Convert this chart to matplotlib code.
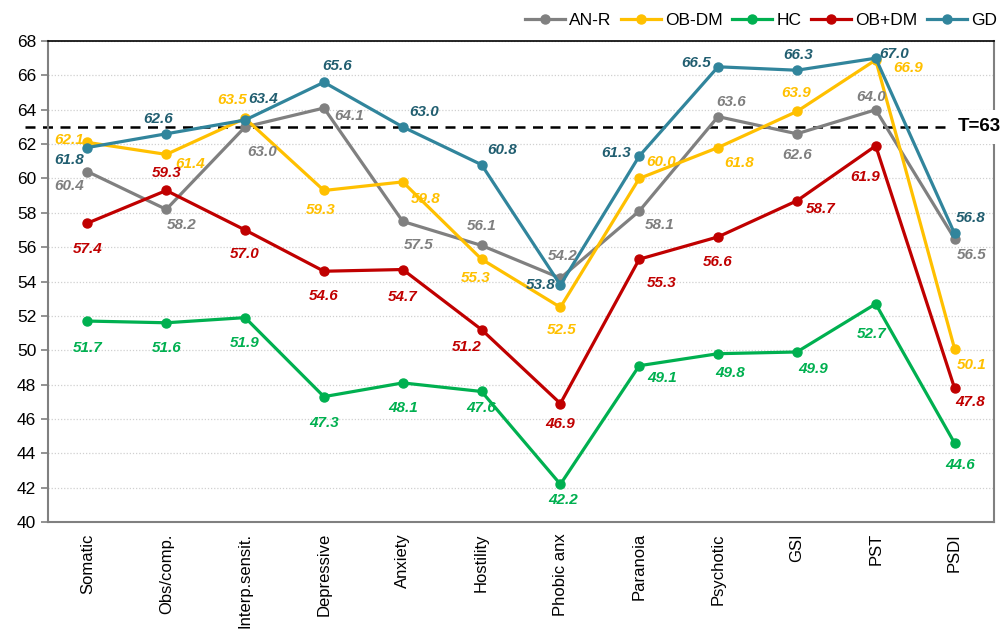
import matplotlib
matplotlib.use("Agg")
import matplotlib.pyplot as plt

categories = ["Somatic", "Obs/comp.", "Interp.sensit.", "Depressive", "Anxiety",
              "Hostility", "Phobic anx", "Paranoia", "Psychotic", "GSI", "PST", "PSDI"]

an_r = [60.4, 58.2, 63.0, 64.1, 57.5, 56.1, 54.2, 58.1, 63.6, 62.6, 64.0, 56.5]
ob_dm = [62.1, 61.4, 63.5, 59.3, 59.8, 55.3, 52.5, 60.0, 61.8, 63.9, 66.9, 50.1]
hc = [51.7, 51.6, 51.9, 47.3, 48.1, 47.6, 42.2, 49.1, 49.8, 49.9, 52.7, 44.6]
ob_plus_dm = [57.4, 59.3, 57.0, 54.6, 54.7, 51.2, 46.9, 55.3, 56.6, 58.7, 61.9, 47.8]
gd = [61.8, 62.6, 63.4, 65.6, 63.0, 60.8, 53.8, 61.3, 66.5, 66.3, 67.0, 56.8]

threshold = 63

series = [
    ("AN-R", an_r, "#808080", "#7F7F7F",
     [(-18, -14), (15, -16), (17, -25), (25, -8), (16, -24), (0, 19), (2, 22),
      (20, -14), (13, 15), (0, -21), (-5, 13), (17, -16)]),
    ("OB-DM", ob_dm, "#FFC000", "#FFC000",
     [(-18, 2), (24, -10), (-13, 18), (-3, -20), (23, -17), (-6, -19), (1, -23),
      (22, 16), (21, -15), (-1, 18), (32, -8), (17, -16)]),
    ("HC", hc, "#00B050", "#00B050",
     [(0, -27), (0, -25), (0, -25), (0, -26), (0, -25), (0, -17), (3, -16),
      (23, -12), (12, -19), (16, -17), (-4, -30), (6, -22)]),
    ("OB+DM", ob_plus_dm, "#C00000", "#C00000",
     [(0, -26), (0, 17), (0, -24), (0, -25), (0, -27), (-15, -17), (0, -20),
      (22, -24), (0, -25), (24, -8), (-11, -31), (16, -14)]),
    ("GD", gd, "#31859C", "#215E70",
     [(-18, -12), (-8, 15), (18, 21), (13, 16), (21, 15), (21, 15), (-20, 0),
      (-23, 3), (-22, 4), (1, 15), (18, 4), (16, 15)]),
]

fig = plt.figure(figsize=(10.05, 6.39), dpi=100)
ax = fig.add_axes([0.0478, 0.183, 0.9412, 0.7528])

x = list(range(len(categories)))
for name, vals, col, tcol, offs in series:
    ax.plot(x, vals, color=col, lw=2.3, marker="o", ms=6.5, label=name, zorder=3)
    for xi, v, (dx, dy) in zip(x, vals, offs):
        ax.annotate(f"{v:.1f}", (xi, v), xytext=(dx, dy), textcoords="offset pixels",
                    ha="center", va="center", fontsize=11, fontweight="bold",
                    fontstyle="italic", color=tcol, family="Liberation Sans",
                    zorder=4)

ax.set_xlim(-0.5, len(categories) - 0.5)
ax.set_ylim(40, 68)
ax.set_yticks(range(40, 69, 2))
ax.set_xticks(x)
ax.set_xticklabels(categories, rotation=90, fontsize=12, family="Liberation Sans")
for lbl in ax.get_yticklabels():
    lbl.set_family("Liberation Sans")
ax.tick_params(axis="y", labelsize=12.5, length=5, color="#808080", width=1.2)
ax.tick_params(axis="x", length=0, pad=8)

ax.yaxis.grid(True, linestyle=(0, (1, 1.5)), color="#D0D0D0", lw=0.9, zorder=0)
ax.set_axisbelow(True)

for side in ["left", "bottom", "right"]:
    ax.spines[side].set_color("#808080")
    ax.spines[side].set_linewidth(1.5)
ax.spines["top"].set_color("black")
ax.spines["top"].set_linewidth(1.2)

ax.plot([-0.79, 10.89], [threshold, threshold], color="black", lw=1.8,
        linestyle=(0, (4, 3)), clip_on=False, zorder=2)
ax.text(11.04, threshold, "T=63", ha="left", va="center", fontsize=13.5,
        fontweight="bold", family="Liberation Sans", clip_on=False, zorder=5,
        bbox=dict(facecolor="white", edgecolor="none",
                  boxstyle="square,pad=0.45"))

leg = fig.legend(loc="upper right", bbox_to_anchor=(1.008, 1.005), ncol=5,
                 frameon=False, handlelength=2.3, handletextpad=0.25,
                 columnspacing=0.55, prop={"family": "Liberation Sans", "size": 12.5})

fig.savefig("out.png", dpi=100)
